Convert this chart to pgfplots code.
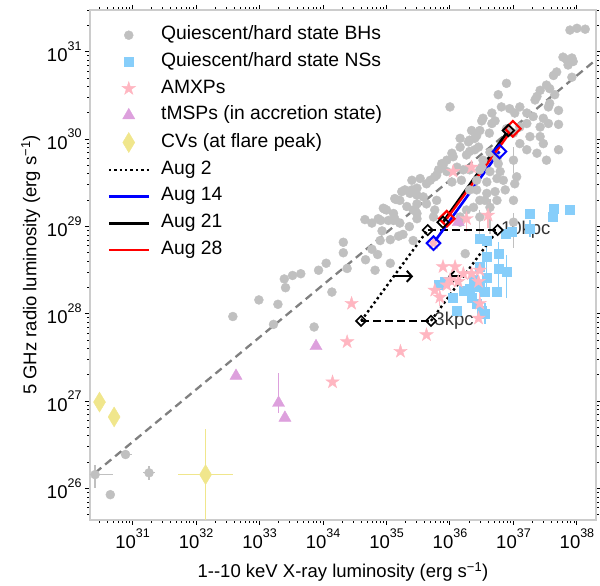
\documentclass[border=0pt]{standalone}
\usepackage{fontspec}
\setmainfont{Liberation Sans}
\usepackage{pgfplots}
\pgfplotsset{compat=1.18}
\usetikzlibrary{plotmarks,arrows.meta}

\definecolor{bhgray}{RGB}{192,192,192}
\definecolor{nsblue}{RGB}{135,206,250}
\definecolor{amxp}{RGB}{255,182,193}
\definecolor{tmsp}{RGB}{221,160,221}
\definecolor{cvkhaki}{RGB}{240,230,140}

% filled five-pointed star
\pgfdeclareplotmark{fstar}{%
  \pgfpathmoveto{\pgfpointpolar{90}{\pgfplotmarksize}}%
  \pgfpathlineto{\pgfpointpolar{126}{0.382\pgfplotmarksize}}%
  \pgfpathlineto{\pgfpointpolar{162}{\pgfplotmarksize}}%
  \pgfpathlineto{\pgfpointpolar{198}{0.382\pgfplotmarksize}}%
  \pgfpathlineto{\pgfpointpolar{234}{\pgfplotmarksize}}%
  \pgfpathlineto{\pgfpointpolar{270}{0.382\pgfplotmarksize}}%
  \pgfpathlineto{\pgfpointpolar{306}{\pgfplotmarksize}}%
  \pgfpathlineto{\pgfpointpolar{342}{0.382\pgfplotmarksize}}%
  \pgfpathlineto{\pgfpointpolar{18}{\pgfplotmarksize}}%
  \pgfpathlineto{\pgfpointpolar{54}{0.382\pgfplotmarksize}}%
  \pgfpathclose\pgfusepathqfillstroke}

\newcommand\ten[1]{10\raisebox{0.62em}{\fontsize{12.5}{13}\selectfont #1}}
\newcommand\bigf{\fontsize{18.5}{22}\selectfont}
\newcommand\legf{\fontsize{19.3}{22}\selectfont}

\begin{document}
\begin{tikzpicture}
\begin{axis}[
  scale only axis, width=506pt, height=510pt,
  xmin=30.33, xmax=38.3, ymin=25.64, ymax=31.48,
  xtick={31,...,38}, ytick={26,...,31},
  xticklabels={\ten{31},\ten{32},\ten{33},\ten{34},\ten{35},\ten{36},\ten{37},\ten{38}},
  yticklabels={\ten{26},\ten{27},\ten{28},\ten{29},\ten{30},\ten{31}},
  minor xtick={30.301,30.477,30.602,30.699,30.778,30.845,30.903,30.954,
    31.301,31.477,31.602,31.699,31.778,31.845,31.903,31.954,
    32.301,32.477,32.602,32.699,32.778,32.845,32.903,32.954,
    33.301,33.477,33.602,33.699,33.778,33.845,33.903,33.954,
    34.301,34.477,34.602,34.699,34.778,34.845,34.903,34.954,
    35.301,35.477,35.602,35.699,35.778,35.845,35.903,35.954,
    36.301,36.477,36.602,36.699,36.778,36.845,36.903,36.954,
    37.301,37.477,37.602,37.699,37.778,37.845,37.903,37.954},
  minor ytick={25.699,25.778,25.845,25.903,25.954,
    26.301,26.477,26.602,26.699,26.778,26.845,26.903,26.954,
    27.301,27.477,27.602,27.699,27.778,27.845,27.903,27.954,
    28.301,28.477,28.602,28.699,28.778,28.845,28.903,28.954,
    29.301,29.477,29.602,29.699,29.778,29.845,29.903,29.954,
    30.301,30.477,30.602,30.699,30.778,30.845,30.903,30.954,
    31.301,31.477},
  tick align=outside, tick pos=both,
  major tick length=5pt, minor tick length=2.7pt,
  every tick/.style={black, line width=1pt},
  axis line style={draw=black!20, line width=1.3pt},
  tick label style={font=\bigf},
  label style={font=\bigf},
  xlabel style={yshift=-7pt},
  xlabel={1-{}-10 keV X-ray luminosity (erg s\textsuperscript{−1})},
  ylabel={5 GHz radio luminosity (erg s\textsuperscript{−1})},
  legend cell align=left,
  legend style={draw=none, fill=none, at={(0.028,0.9735)}, anchor=north west,
    font=\legf, row sep=7.7pt, column sep=10pt,
    nodes={inner sep=1pt, text height=13pt, text depth=4pt}},
  legend image code/.code={\draw[mark repeat=2,mark phase=2,#1]
    plot coordinates {(0pt,0pt) (20pt,0pt) (40pt,0pt)};},
]
% L_R ~ L_X^0.6 track
\addplot[forget plot, gray, line width=2.3pt, dash pattern=on 8pt off 5pt]
  coordinates {(30.41,26.18) (38.3,30.91)};

% black holes with error bars
\addplot[forget plot, only marks, mark=*, mark size=4.5pt, bhgray,
  error bars/.cd, x dir=both, x explicit, y dir=both, y explicit,
  error mark=none, error bar style={line width=1.2pt, bhgray}]
  coordinates {
  (30.41,26.16) += (0.28,0.11) -= (0.3,0.15)
  (30.89,26.39) += (0.1,0) -= (0.02,0)
  (31.26,26.18) += (0.1,0.08) -= (0.1,0.08)
  (37.00,29.76) += (0,0.15) -= (0,0.15)
  (36.63,29.22) += (0,0.1) -= (0,0.3)
  (36.47,29.11) += (0,0.08) -= (0,0.3)
  (37.00,29.05) += (0,0.1) -= (0,0.3)
  };
\addplot[only marks, mark=*, mark size=4.5pt, bhgray] table {
30.65 25.93
32.58 27.97
32.99 28.16
33.22 27.88
33.29 28.11
33.39 28.40
33.41 28.30
33.52 28.44
33.65 28.46
33.93 28.50
34.05 28.58
34.14 28.25
33.86 27.85
34.38 28.52
34.32 28.82
34.32 28.70
34.66 29.08
34.67 28.62
34.77 28.74
34.86 28.68
34.82 28.50
34.91 29.07
34.97 29.20
34.93 28.95
35.06 28.58
35.13 29.09
35.15 29.31
35.06 28.85
35.19 28.89
35.26 28.91
35.36 29.00
35.42 28.84
35.45 29.19
35.48 29.09
35.24 29.40
35.37 29.38
35.48 29.36
37.89 31.25
38.00 31.27
38.13 31.26
37.78 30.94
37.84 30.91
37.92 30.93
37.86 30.85
37.94 30.89
37.68 30.77
37.63 30.73
37.92 30.71
36.89 30.64
37.52 30.62
37.57 30.58
37.42 30.56
37.65 30.51
37.37 30.49
37.34 30.45
36.76 30.51
36.00 30.37
36.81 30.37
36.94 30.35
37.10 30.37
37.02 30.30
37.21 30.30
37.31 30.26
37.47 30.24
37.55 30.37
37.71 30.33
36.66 30.30
36.52 30.24
36.66 30.18
36.34 30.10
36.42 30.04
36.16 30.01
37.42 30.14
37.55 30.18
37.71 30.17
37.10 30.14
37.26 30.03
37.57 30.41
37.71 29.88
36.47 30.10
36.62 30.07
36.31 29.99
36.16 29.91
36.03 29.84
36.39 29.88
36.26 29.82
37.21 30.18
37.42 30.03
37.47 29.95
37.52 29.76
37.37 29.84
37.21 29.88
37.10 29.95
37.00 30.07
36.89 30.12
35.89 29.70
35.79 29.59
35.95 29.63
36.11 29.68
36.21 29.65
36.18 29.53
36.03 29.51
35.53 29.55
35.48 29.44
35.21 29.30
35.32 29.23
35.58 29.34
35.63 29.26
35.79 29.30
35.76 29.19
35.42 29.19
35.11 29.15
35.00 29.19
35.03 29.07
35.21 29.04
34.90 28.84
36.63 29.85
36.74 29.78
36.52 29.76
36.47 29.65
36.63 29.63
36.42 29.53
36.58 29.51
36.79 29.63
36.84 29.53
36.42 29.42
36.58 29.38
36.71 29.40
36.47 29.30
36.74 29.30
36.37 29.22
37.00 29.30
37.02 29.49
37.05 29.57
36.87 29.42
36.26 29.19
36.16 29.05
36.24 28.69
36.50 30.21
36.71 30.21
36.39 30.01
36.29 29.97
36.31 29.86
36.45 29.91
36.05 29.80
35.95 29.76
35.87 29.72
35.82 29.65
35.76 29.57
35.69 29.53
35.63 29.49
35.40 29.53
35.40 29.42
35.29 29.42
35.13 29.32
34.95 29.21
35.11 29.07
34.87 29.09
34.77 29.04
35.48 29.26
35.48 29.15
35.74 29.11
36.31 29.42
36.55 29.30
36.74 29.55
36.76 29.72
36.31 29.65
36.50 29.68
36.16 29.11
};
\addlegendentry{Quiescent/hard state BHs}

% neutron stars
\addplot[forget plot, only marks, mark=square*, mark size=4.5pt, nsblue,
  error bars/.cd, x dir=both, x explicit, y dir=both, y explicit,
  error mark=none, error bar style={line width=1.2pt, nsblue}]
  coordinates {
  (36.76,28.52) += (0.05,0.3) -= (0.05,0.3)
  (36.89,28.48) += (0.05,0.2) -= (0.05,0.3)
  (36.58,28.65) += (0.05,0.15) -= (0.05,0.4)
  (36.55,28.00) += (0.05,0.12) -= (0.05,0.12)
  (37.26,28.98) += (0.05,0.1) -= (0.05,0.1)
  (36.47,28.31) += (0.05,0.1) -= (0.05,0.2)
  };
\addplot[only marks, mark=square*, mark size=4.5pt, nsblue] table {
37.26 29.15
37.63 29.21
37.62 29.11
37.88 29.19
36.87 28.92
36.97 28.94
36.47 28.86
36.58 28.84
36.76 28.69
36.47 28.54
36.58 28.42
36.37 28.39
36.31 28.29
36.55 28.25
36.74 28.25
36.21 28.27
36.11 28.04
36.34 28.18
36.42 28.12
36.50 28.04
35.82 28.33
35.92 28.37
36.05 28.19
};
\addlegendentry{Quiescent/hard state NSs}

% AMXPs
\addplot[forget plot, only marks, mark=fstar, mark size=7pt, amxp,
  error bars/.cd, y dir=both, y explicit,
  error mark=none, error bar style={line width=1.2pt, amxp}]
  coordinates {
  (36.26,29.09) +- (0,0.15)
  (36.60,29.13) +- (0,0.15)
  (36.47,28.12) +- (0,0.12)
  (35.84,28.19) +- (0,0.1)
  };
\addplot[only marks, mark=fstar, mark size=7pt, amxp] table {
36.05 29.63
36.34 29.68
35.74 28.81
36.08 28.54
36.21 28.46
36.34 28.46
36.47 28.50
36.45 28.37
35.89 28.54
36.00 28.39
35.95 28.33
36.13 28.37
35.76 28.27
36.45 27.95
35.63 27.76
34.45 28.12
34.38 27.68
35.22 27.57
34.15 27.22
};
\addlegendentry{AMXPs}

% tMSPs
\addplot[forget plot, only marks, mark=triangle*, mark size=7pt, tmsp,
  error bars/.cd, x dir=both, x explicit, y dir=both, y explicit,
  error mark=none, error bar style={line width=1.2pt, tmsp}]
  coordinates {(33.30,26.98) += (0.04,0.34) -= (0.04,0.11)};
\addplot[only marks, mark=triangle*, mark size=7pt, tmsp] table {
32.63 27.29
33.40 26.81
33.89 27.63
36.13 29.05
};
\addlegendentry{tMSPs (in accretion state)}

% CVs
\addplot[forget plot, only marks, mark=diamond*, mark size=10pt,
  mark options={xscale=0.8}, cvkhaki,
  error bars/.cd, x dir=both, x explicit, y dir=both, y explicit,
  error mark=none, error bar style={line width=1.2pt, cvkhaki}]
  coordinates {(32.15,26.16) += (0.43,0.52) -= (0.43,1.0)};
\addplot[only marks, mark=diamond*, mark size=10pt, mark options={xscale=0.8}, cvkhaki] table {
30.48 26.99
30.71 26.82
};
\addlegendentry{CVs (at flare peak)}

% Aug 2: range of L_X at 3 and 10 kpc
\addplot[black, line width=2.4pt, dash pattern=on 2.4pt off 3pt]
  coordinates {(34.60,27.92) (35.65,28.96)};
\addlegendentry{Aug 2}
\addplot[forget plot, black, line width=2.4pt, dash pattern=on 2.4pt off 3pt]
  coordinates {(35.70,27.92) (36.75,28.96)};
\addplot[forget plot, black, line width=2.5pt, dash pattern=on 8pt off 4pt]
  coordinates {(34.60,27.92) (35.70,27.92)};
\addplot[forget plot, black, line width=2.5pt, dash pattern=on 8pt off 4pt]
  coordinates {(35.65,28.96) (36.75,28.96)};
\addplot[forget plot, black, line width=2.2pt, -{Straight Barb[length=5pt,width=11pt,line width=2pt]}]
  coordinates {(35.10,28.43) (35.42,28.43)};
\addplot[forget plot, black, line width=2.2pt, -{Straight Barb[length=5pt,width=11pt,line width=2pt]}]
  coordinates {(36.24,28.43) (35.97,28.43)};

\addplot[blue, line width=2.6pt] coordinates {(35.74,28.81) (36.78,29.86)};
\addlegendentry{Aug 14}
\addplot[black, line width=2.8pt] coordinates {(35.89,29.05) (36.92,30.10)};
\addlegendentry{Aug 21}
\addplot[red, line width=2.3pt] coordinates {(35.95,29.09) (36.99,30.12)};
\addlegendentry{Aug 28}

% diamond markers at both distances
\addplot[forget plot, only marks, mark=square, mark size=3.6pt,
  mark options={rotate=45, fill=white, draw=black, line width=1.6pt}]
  coordinates {(34.60,27.92) (35.70,27.92) (35.65,28.96) (36.75,28.96)};
\addplot[forget plot, only marks, mark=square, mark size=4.8pt,
  mark options={rotate=45, fill=white, draw=blue, line width=2pt}]
  coordinates {(35.74,28.81) (36.78,29.86)};
\addplot[forget plot, only marks, mark=square, mark size=5.5pt,
  mark options={rotate=45, fill=white, draw=red, line width=2.2pt}]
  coordinates {(35.95,29.09) (36.99,30.12)};
\addplot[forget plot, only marks, mark=square, mark size=4pt,
  mark options={rotate=45, fill=none, draw=black, line width=1.8pt}]
  coordinates {(35.89,29.05) (36.92,30.10)};

\node[anchor=west, font=\bigf, text=black!80] at (axis cs:36.75,28.96) {10kpc};
\node[anchor=west, font=\bigf, text=black!80] at (axis cs:35.70,27.92) {3kpc};

\coordinate (axsw) at (rel axis cs:0,0);
\coordinate (axne) at (rel axis cs:1,1);
\end{axis}
\pgfresetboundingbox
\path ([xshift=-90pt,yshift=-66pt]axsw) rectangle ([xshift=4pt,yshift=10pt]axne);
\end{tikzpicture}
\end{document}
